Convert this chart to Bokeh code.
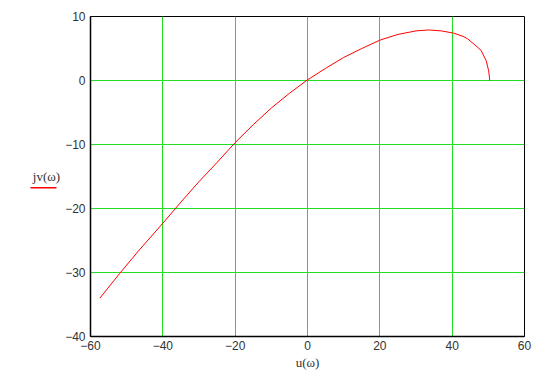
from bokeh.plotting import figure
from bokeh.models import Range1d, FixedTicker
from bokeh.layouts import row
from bokeh.embed import file_html
from bokeh.resources import INLINE

# Data (Nyquist-like curve)
u_vals = [-57.4, -52.0, -47.0, -40.0, -35.0, -30.0, -25.0, -20.0, -15.0, -10.0, -5.0,
          0.0, 5.0, 10.0, 15.0, 20.0, 25.0, 30.0, 33.5, 37.0, 40.4, 43.0, 44.3,
          46.0, 48.0, 49.4, 50.1, 50.4]
jv_vals = [-34.0, -30.2, -26.8, -22.3, -19.0, -15.8, -12.8, -9.7, -6.9, -4.3, -2.0,
           0.1, 1.9, 3.6, 5.0, 6.3, 7.2, 7.75, 7.9, 7.75, 7.4, 6.9, 6.5,
           5.7, 4.7, 3.1, 1.5, 0.0]
x_ticks = [-60, -40, -20, 0, 20, 40, 60]
y_ticks = [-40, -30, -20, -10, 0, 10]
y_label = "jv(\u03c9)"
x_label = "u(\u03c9)"

def lab(t):
    return ("\u2212" + str(abs(t))) if t < 0 else str(t)

LEFT_W = 62
H = 372

# --- small left panel holding the y-label with its red legend line ---
side = figure(width=LEFT_W, height=H, output_backend="svg", toolbar_location=None,
              x_range=Range1d(0, LEFT_W), y_range=Range1d(0, H),
              x_axis_location=None, y_axis_location=None,
              min_border_left=0, min_border_right=0, min_border_top=0, min_border_bottom=0)
side.outline_line_color = None
side.xgrid.visible = False
side.ygrid.visible = False
side.text(x=[46], y=[H - 186], text=[y_label], text_align="center", text_baseline="middle",
          text_font_size="13px", text_color="#333333",
          text_font={"value": "Liberation Serif"})
side.line(x=[30, 56], y=[H - 199, H - 199], line_color="#ff0000", line_width=1.5)

# --- main plot ---
p = figure(width=540 - LEFT_W, height=H, output_backend="svg", toolbar_location=None,
           x_range=Range1d(-60, 60), y_range=Range1d(-40, 10),
           min_border_left=89 - LEFT_W, min_border_right=16, min_border_top=16,
           min_border_bottom=35)

p.line(u_vals, jv_vals, line_color="#ff0000", line_width=1)

grid_col = "#22dd22"
p.xgrid.ticker = FixedTicker(ticks=x_ticks)
p.ygrid.ticker = FixedTicker(ticks=y_ticks)
for g in (p.xgrid, p.ygrid):
    g.grid_line_color = grid_col
    g.grid_line_width = 1
    g.grid_line_alpha = 1.0

p.outline_line_color = "black"
p.outline_line_width = 1

for ax, ticks in ((p.xaxis, x_ticks), (p.yaxis, y_ticks)):
    ax.ticker = FixedTicker(ticks=ticks)
    ax.major_label_overrides = {t: lab(t) for t in ticks}
    ax.major_tick_line_color = None
    ax.minor_tick_line_color = None
    ax.major_tick_out = 0
    ax.major_tick_in = 0
    ax.minor_tick_out = 0
    ax.minor_tick_in = 0
    ax.axis_line_color = "black"
    ax.axis_line_width = 1.5
    ax.major_label_text_font = "Liberation Sans"
    ax.major_label_text_font_size = "12px"
    ax.major_label_text_color = "#333333"
    ax.major_label_standoff = 5

p.xaxis.major_label_standoff = 4
p.xaxis.axis_label = x_label
p.xaxis.axis_label_text_font = "Liberation Serif"
p.xaxis.axis_label_text_font_style = "normal"
p.xaxis.axis_label_text_font_size = "13px"
p.xaxis.axis_label_text_color = "#333333"
p.xaxis.axis_label_standoff = 2

open("out.html", "w").write(file_html(row(side, p), INLINE))
